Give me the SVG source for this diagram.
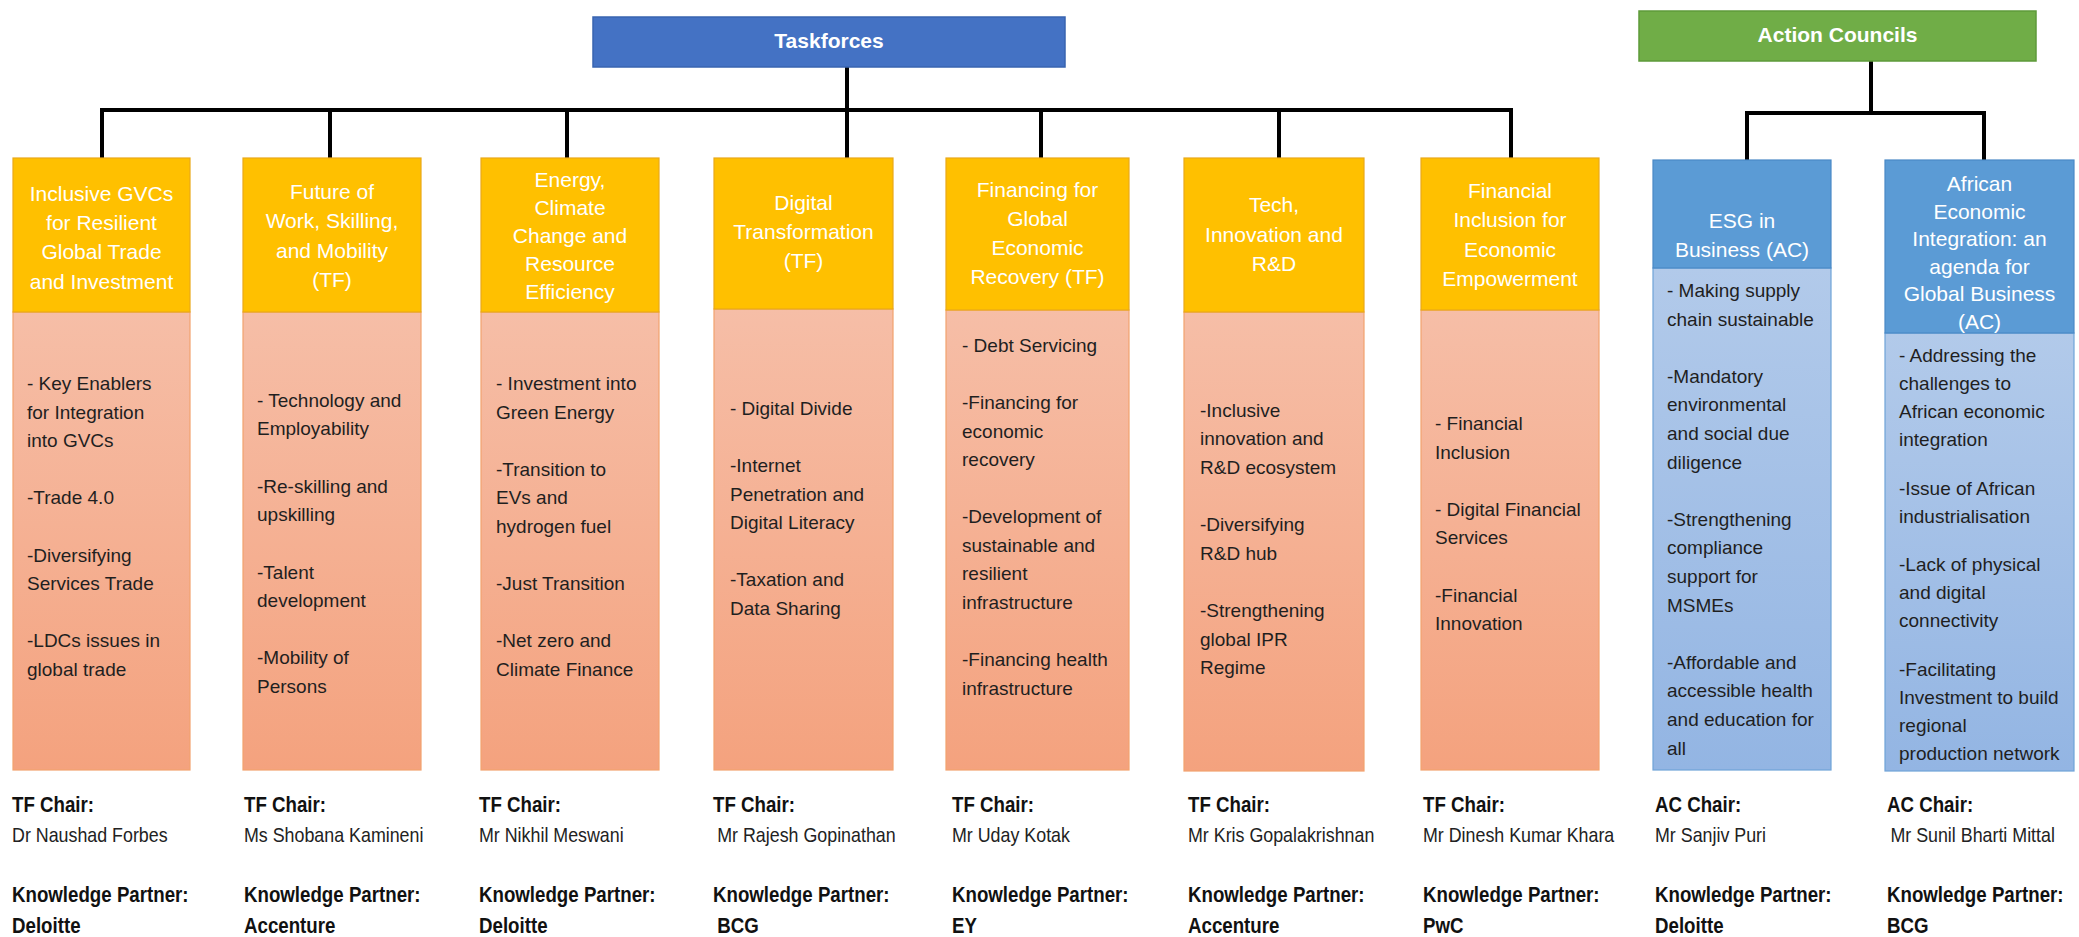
<svg xmlns="http://www.w3.org/2000/svg" width="2079" height="937" viewBox="0 0 2079 937">
<style>
.hdr{font-family:"Liberation Sans",Arial,sans-serif;font-size:21px;fill:#ffffff;text-anchor:middle}
.top{font-family:"Liberation Sans",Arial,sans-serif;font-size:21px;font-weight:bold;fill:#ffffff;text-anchor:middle}
.bd{font-family:"Liberation Sans",Arial,sans-serif;font-size:19px;fill:#1f1f1f}
.lb{font-family:"Liberation Sans",Arial,sans-serif;font-size:22px;font-weight:bold;fill:#111111}
.lr{font-family:"Liberation Sans",Arial,sans-serif;font-size:21px;fill:#222222}
.yhead{fill:#FFC000;stroke:#E9A818;stroke-width:1.2}
.sbody{fill:url(#salmon);stroke:#F2A26E;stroke-width:1.2}
.bhead{fill:#5B9BD5;stroke:#4A89C6;stroke-width:1.2}
.bbody{fill:url(#lblue);stroke:#6FA3D8;stroke-width:1.2}
.conn{fill:none;stroke:#000000;stroke-width:4;stroke-linejoin:miter;stroke-linecap:square}
</style>
<defs>
<linearGradient id="salmon" x1="0" y1="0" x2="0" y2="1">
<stop offset="0" stop-color="#F6BEA7"/>
<stop offset="1" stop-color="#F4A27E"/>
</linearGradient>
<linearGradient id="lblue" x1="0" y1="0" x2="0" y2="1">
<stop offset="0" stop-color="#B2CAEA"/>
<stop offset="1" stop-color="#93B5E3"/>
</linearGradient>
</defs>
<rect width="2079" height="937" fill="#ffffff"/>

<g id="connectors">
<path class="conn" d="M847 67 V110 M102 158 V110 H1511 V158 M330 110 V158 M567 110 V158 M847 110 V158 M1041 110 V158 M1279 110 V158"/>
<path class="conn" d="M1871 61 V113 M1747 159 V113 H1984 V159"/>
</g>

<g id="taskforces">
<rect x="593" y="17" width="472" height="50" fill="#4472C4" stroke="#3864B0" stroke-width="1.5"/>
<text class="top" x="829" y="48">Taskforces</text>
</g>

<g id="action-councils">
<rect x="1639" y="11" width="397" height="50" fill="#70AD47" stroke="#5E9A3A" stroke-width="1.5"/>
<text class="top" x="1837.5" y="42">Action Councils</text>
</g>

<g id="tf1">
<rect class="sbody" x="13" y="312" width="177" height="458"/>
<rect class="yhead" x="13" y="158" width="177" height="154"/>
<text class="hdr" x="101.5" y="200.7">Inclusive GVCs</text>
<text class="hdr" x="101.5" y="230">for Resilient</text>
<text class="hdr" x="101.5" y="259.3">Global Trade</text>
<text class="hdr" x="101.5" y="288.6">and Investment</text>
<text class="bd" x="27" y="390">- Key Enablers</text>
<text class="bd" x="27" y="418.6">for Integration</text>
<text class="bd" x="27" y="447">into GVCs</text>
<text class="bd" x="27" y="504">-Trade 4.0</text>
<text class="bd" x="27" y="561.5">-Diversifying</text>
<text class="bd" x="27" y="590">Services Trade</text>
<text class="bd" x="27" y="647">-LDCs issues in</text>
<text class="bd" x="27" y="676">global trade</text>
</g>

<g id="tf2">
<rect class="sbody" x="243" y="312" width="178" height="458"/>
<rect class="yhead" x="243" y="158" width="178" height="154"/>
<text class="hdr" x="332" y="199">Future of</text>
<text class="hdr" x="332" y="228.3">Work, Skilling,</text>
<text class="hdr" x="332" y="257.6">and Mobility</text>
<text class="hdr" x="332" y="287">(TF)</text>
<text class="bd" x="257" y="406.5">- Technology and</text>
<text class="bd" x="257" y="435">Employability</text>
<text class="bd" x="257" y="492.5">-Re-skilling and</text>
<text class="bd" x="257" y="521">upskilling</text>
<text class="bd" x="257" y="578.5">-Talent</text>
<text class="bd" x="257" y="607">development</text>
<text class="bd" x="257" y="664">-Mobility of</text>
<text class="bd" x="257" y="692.5">Persons</text>
</g>

<g id="tf3">
<rect class="sbody" x="481" y="312" width="178" height="458"/>
<rect class="yhead" x="481" y="158" width="178" height="154"/>
<text class="hdr" x="570" y="187">Energy,</text>
<text class="hdr" x="570" y="215">Climate</text>
<text class="hdr" x="570" y="243">Change and</text>
<text class="hdr" x="570" y="271">Resource</text>
<text class="hdr" x="570" y="299">Efficiency</text>
<text class="bd" x="496" y="390">- Investment into</text>
<text class="bd" x="496" y="418.6">Green Energy</text>
<text class="bd" x="496" y="475.8">-Transition to</text>
<text class="bd" x="496" y="504.4">EVs and</text>
<text class="bd" x="496" y="533">hydrogen fuel</text>
<text class="bd" x="496" y="590">-Just Transition</text>
<text class="bd" x="496" y="647.4">-Net zero and</text>
<text class="bd" x="496" y="676">Climate Finance</text>
</g>

<g id="tf4">
<rect class="sbody" x="714" y="309" width="179" height="461"/>
<rect class="yhead" x="714" y="158" width="179" height="151"/>
<text class="hdr" x="803.5" y="210">Digital</text>
<text class="hdr" x="803.5" y="239">Transformation</text>
<text class="hdr" x="803.5" y="268">(TF)</text>
<text class="bd" x="730" y="415">- Digital Divide</text>
<text class="bd" x="730" y="472">-Internet</text>
<text class="bd" x="730" y="500.6">Penetration and</text>
<text class="bd" x="730" y="529">Digital Literacy</text>
<text class="bd" x="730" y="586.4">-Taxation and</text>
<text class="bd" x="730" y="615">Data Sharing</text>
</g>

<g id="tf5">
<rect class="sbody" x="946" y="310" width="183" height="460"/>
<rect class="yhead" x="946" y="158" width="183" height="152"/>
<text class="hdr" x="1037.5" y="197">Financing for</text>
<text class="hdr" x="1037.5" y="226">Global</text>
<text class="hdr" x="1037.5" y="255">Economic</text>
<text class="hdr" x="1037.5" y="284">Recovery (TF)</text>
<text class="bd" x="962" y="352">- Debt Servicing</text>
<text class="bd" x="962" y="409">-Financing for</text>
<text class="bd" x="962" y="437.5">economic</text>
<text class="bd" x="962" y="466">recovery</text>
<text class="bd" x="962" y="523">-Development of</text>
<text class="bd" x="962" y="552">sustainable and</text>
<text class="bd" x="962" y="580">resilient</text>
<text class="bd" x="962" y="609">infrastructure</text>
<text class="bd" x="962" y="666">-Financing health</text>
<text class="bd" x="962" y="695">infrastructure</text>
</g>

<g id="tf6">
<rect class="sbody" x="1184" y="312" width="180" height="459"/>
<rect class="yhead" x="1184" y="158" width="180" height="154"/>
<text class="hdr" x="1274" y="212">Tech,</text>
<text class="hdr" x="1274" y="241.5">Innovation and</text>
<text class="hdr" x="1274" y="271">R&amp;D</text>
<text class="bd" x="1200" y="416.7">-Inclusive</text>
<text class="bd" x="1200" y="445.3">innovation and</text>
<text class="bd" x="1200" y="474">R&amp;D ecosystem</text>
<text class="bd" x="1200" y="531">-Diversifying</text>
<text class="bd" x="1200" y="559.7">R&amp;D hub</text>
<text class="bd" x="1200" y="617">-Strengthening</text>
<text class="bd" x="1200" y="645.5">global IPR</text>
<text class="bd" x="1200" y="674">Regime</text>
</g>

<g id="tf7">
<rect class="sbody" x="1421" y="310" width="178" height="460"/>
<rect class="yhead" x="1421" y="158" width="178" height="152"/>
<text class="hdr" x="1510" y="198">Financial</text>
<text class="hdr" x="1510" y="227">Inclusion for</text>
<text class="hdr" x="1510" y="257">Economic</text>
<text class="hdr" x="1510" y="286">Empowerment</text>
<text class="bd" x="1435" y="430">- Financial</text>
<text class="bd" x="1435" y="458.6">Inclusion</text>
<text class="bd" x="1435" y="515.8">- Digital Financial</text>
<text class="bd" x="1435" y="544.4">Services</text>
<text class="bd" x="1435" y="601.6">-Financial</text>
<text class="bd" x="1435" y="630.2">Innovation</text>
</g>

<g id="ac1">
<rect class="bbody" x="1653" y="268" width="178" height="502"/>
<rect class="bhead" x="1653" y="160" width="178" height="108"/>
<text class="hdr" x="1742" y="228">ESG in</text>
<text class="hdr" x="1742" y="257">Business (AC)</text>
<text class="bd" x="1667" y="297">- Making supply</text>
<text class="bd" x="1667" y="325.6">chain sustainable</text>
<text class="bd" x="1667" y="382.8">-Mandatory</text>
<text class="bd" x="1667" y="411.4">environmental</text>
<text class="bd" x="1667" y="440">and social due</text>
<text class="bd" x="1667" y="468.6">diligence</text>
<text class="bd" x="1667" y="525.8">-Strengthening</text>
<text class="bd" x="1667" y="554.4">compliance</text>
<text class="bd" x="1667" y="583">support for</text>
<text class="bd" x="1667" y="611.6">MSMEs</text>
<text class="bd" x="1667" y="668.8">-Affordable and</text>
<text class="bd" x="1667" y="697.4">accessible health</text>
<text class="bd" x="1667" y="726">and education for</text>
<text class="bd" x="1667" y="754.6">all</text>
</g>

<g id="ac2">
<rect class="bbody" x="1885" y="333" width="189" height="438"/>
<rect class="bhead" x="1885" y="160" width="189" height="173"/>
<text class="hdr" x="1979.5" y="191">African</text>
<text class="hdr" x="1979.5" y="218.5">Economic</text>
<text class="hdr" x="1979.5" y="246">Integration: an</text>
<text class="hdr" x="1979.5" y="273.5">agenda for</text>
<text class="hdr" x="1979.5" y="301">Global Business</text>
<text class="hdr" x="1979.5" y="328.5">(AC)</text>
<text class="bd" x="1899" y="361.7">- Addressing the</text>
<text class="bd" x="1899" y="390">challenges to</text>
<text class="bd" x="1899" y="418.2">African economic</text>
<text class="bd" x="1899" y="446.4">integration</text>
<text class="bd" x="1899" y="494.6">-Issue of African</text>
<text class="bd" x="1899" y="522.8">industrialisation</text>
<text class="bd" x="1899" y="571">-Lack of physical</text>
<text class="bd" x="1899" y="599.2">and digital</text>
<text class="bd" x="1899" y="627.4">connectivity</text>
<text class="bd" x="1899" y="675.6">-Facilitating</text>
<text class="bd" x="1899" y="703.8">Investment to build</text>
<text class="bd" x="1899" y="732">regional</text>
<text class="bd" x="1899" y="760.2">production network</text>
</g>

<g id="chair1" transform="translate(12,0) scale(0.85,1)">
<text class="lb" x="0" y="812">TF Chair:</text>
<text class="lr" x="0" y="842">Dr Naushad Forbes</text>
<text class="lb" x="0" y="902">Knowledge Partner:</text>
<text class="lb" x="0" y="933">Deloitte</text>
</g>
<g id="chair2" transform="translate(244,0) scale(0.85,1)">
<text class="lb" x="0" y="812">TF Chair:</text>
<text class="lr" x="0" y="842">Ms Shobana Kamineni</text>
<text class="lb" x="0" y="902">Knowledge Partner:</text>
<text class="lb" x="0" y="933">Accenture</text>
</g>
<g id="chair3" transform="translate(479,0) scale(0.85,1)">
<text class="lb" x="0" y="812">TF Chair:</text>
<text class="lr" x="0" y="842">Mr Nikhil Meswani</text>
<text class="lb" x="0" y="902">Knowledge Partner:</text>
<text class="lb" x="0" y="933">Deloitte</text>
</g>
<g id="chair4" transform="translate(713,0) scale(0.85,1)">
<text class="lb" x="0" y="812">TF Chair:</text>
<text class="lr" x="5" y="842">Mr Rajesh Gopinathan</text>
<text class="lb" x="0" y="902">Knowledge Partner:</text>
<text class="lb" x="5" y="933">BCG</text>
</g>
<g id="chair5" transform="translate(952,0) scale(0.85,1)">
<text class="lb" x="0" y="812">TF Chair:</text>
<text class="lr" x="0" y="842">Mr Uday Kotak</text>
<text class="lb" x="0" y="902">Knowledge Partner:</text>
<text class="lb" x="0" y="933">EY</text>
</g>
<g id="chair6" transform="translate(1188,0) scale(0.85,1)">
<text class="lb" x="0" y="812">TF Chair:</text>
<text class="lr" x="0" y="842">Mr Kris Gopalakrishnan</text>
<text class="lb" x="0" y="902">Knowledge Partner:</text>
<text class="lb" x="0" y="933">Accenture</text>
</g>
<g id="chair7" transform="translate(1423,0) scale(0.85,1)">
<text class="lb" x="0" y="812">TF Chair:</text>
<text class="lr" x="0" y="842">Mr Dinesh Kumar Khara</text>
<text class="lb" x="0" y="902">Knowledge Partner:</text>
<text class="lb" x="0" y="933">PwC</text>
</g>
<g id="chair8" transform="translate(1655,0) scale(0.85,1)">
<text class="lb" x="0" y="812">AC Chair:</text>
<text class="lr" x="0" y="842">Mr Sanjiv Puri</text>
<text class="lb" x="0" y="902">Knowledge Partner:</text>
<text class="lb" x="0" y="933">Deloitte</text>
</g>
<g id="chair9" transform="translate(1887,0) scale(0.85,1)">
<text class="lb" x="0" y="812">AC Chair:</text>
<text class="lr" x="4" y="842">Mr Sunil Bharti Mittal</text>
<text class="lb" x="0" y="902">Knowledge Partner:</text>
<text class="lb" x="0" y="933">BCG</text>
</g>
</svg>
